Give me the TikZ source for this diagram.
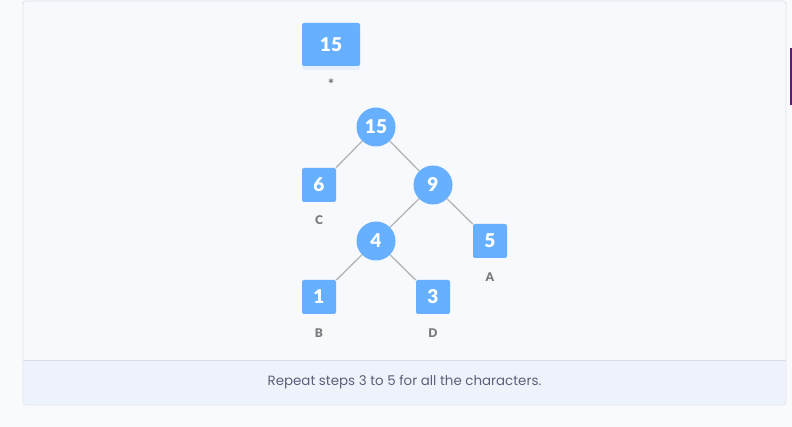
\documentclass[tikz,border=0pt]{standalone}
\usepackage{fontspec}
\setmainfont{Lato}[BoldFont={Lato Black}]
\newfontfamily\captionfont{Poppins}
\usetikzlibrary{shadows}

\definecolor{nodeblue}{HTML}{66B0FF}
\definecolor{edgegray}{HTML}{B5B5B5}
\definecolor{labelgray}{HTML}{7A7A7A}
\definecolor{pagebg}{HTML}{F9FAFB}
\definecolor{framebg}{HTML}{F7F9FC}
\definecolor{framedraw}{HTML}{D9DDE5}
\definecolor{bandbg}{HTML}{EEF3FB}
\definecolor{captiongray}{HTML}{5D5F7A}
\definecolor{edgepurple}{HTML}{5A1E7A}

\tikzstyle{leafbox} = [fill=nodeblue, rounded corners=2pt, minimum size=34pt,
    inner sep=0pt, text=white, font=\bfseries\fontsize{19}{19}\selectfont]
\tikzstyle{sumcircle} = [circle, fill=nodeblue, minimum size=39pt,
    inner sep=0pt, text=white, font=\bfseries\fontsize{19}{19}\selectfont]
\tikzstyle{charlabel} = [text=labelgray, font=\bfseries\fontsize{12}{12}\selectfont]
\tikzstyle{treeedge} = [draw=edgegray, line width=1.3pt]

\begin{document}
\begin{tikzpicture}[x=1pt,y=-1pt]
\useasboundingbox (0,0) rectangle (792,427);
\fill[pagebg] (0,0) rectangle (792,427);

% frame and caption band
\draw[framedraw, fill=framebg, rounded corners=3pt] (23,1) rectangle (786,405);
\begin{scope}
\clip[rounded corners=3pt] (23,1) rectangle (786,405);
\fill[bandbg] (23,360) rectangle (786,405);
\end{scope}
\draw[framedraw] (23,360) -- (786,360);
\draw[framedraw, rounded corners=3pt] (23,1) rectangle (786,405);
\fill[edgepurple] (790,48) rectangle (792,105);

% queue
\node[leafbox, minimum width=58pt, minimum height=43pt,
    drop shadow={opacity=0.12, shadow xshift=0pt, shadow yshift=-4pt, fill=nodeblue}]
    (top) at (331,44.5) {15};
\node[text=labelgray, font=\bfseries\fontsize{14}{14}\selectfont] (star) at (331,84) {*};

% tree
\node[sumcircle] (n15) at (376,127) {15};
\node[leafbox] (c6) at (319,185) {6};
\node[sumcircle] (n9) at (433,185) {9};
\node[sumcircle] (n4) at (376,241) {4};
\node[leafbox] (a5) at (490,241) {5};
\node[leafbox] (b1) at (319,297) {1};
\node[leafbox] (d3) at (433,297) {3};

\draw[treeedge] (n15) -- (c6);
\draw[treeedge] (n15) -- (n9);
\draw[treeedge] (n9) -- (n4);
\draw[treeedge] (n9) -- (a5);
\draw[treeedge] (n4) -- (b1);
\draw[treeedge] (n4) -- (d3);

\node[charlabel] (lc) at (319,220) {C};
\node[charlabel] (la) at (490,277) {A};
\node[charlabel] (lb) at (319,333) {B};
\node[charlabel] (ld) at (433,333) {D};

% caption
\node[text=captiongray, font=\captionfont\fontsize{13.4}{13.4}\selectfont]
    (caption) at (404.5,382) {Repeat steps 3 to 5 for all the characters.};
\end{tikzpicture}
\end{document}
